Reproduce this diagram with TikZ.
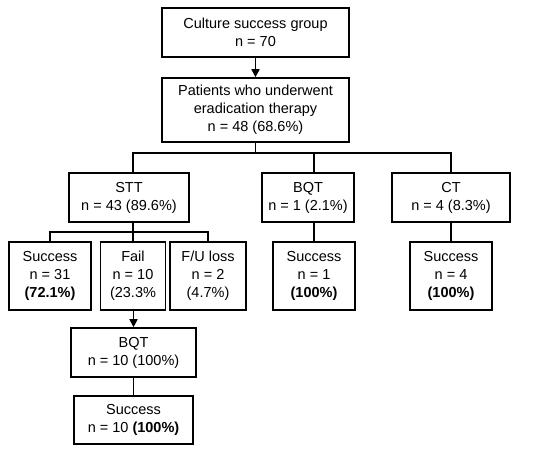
\documentclass[tikz,border=0pt]{standalone}
\usepackage{fontspec}
\setmainfont{Liberation Sans}
\usetikzlibrary{positioning, arrows.meta}

\begin{document}
\begin{tikzpicture}[
    x=1pt, y=-1pt,
    box/.style={draw, line width=1.6pt, inner sep=2pt, align=center, font=\fontsize{14.5}{18}\selectfont},
    conn/.style={line width=1.6pt},
    arr/.style={conn, -{Triangle[length=8pt, width=8pt]}},
]
\useasboundingbox (0,0) rectangle (550,449);

% top of the tree
\node[box, minimum width=187pt, minimum height=49pt] (culture) at (255.5,32.5) {Culture success group\\n = 70};
\node[box, minimum width=187pt, minimum height=64pt] (patients) at (255.5,110) {Patients who underwent\\eradication therapy\\n = 48 (68.6\%)};

% treatment groups
\node[box, minimum width=120pt, minimum height=49pt] (stt) at (129,197.5) {STT\\n = 43 (89.6\%)};
\node[box, minimum width=92pt, minimum height=49pt] (bqt) at (308,197.5) {BQT\\n = 1 (2.1\%)};
\node[box, minimum width=118pt, minimum height=49pt] (ct) at (451,197.5) {CT\\n = 4 (8.3\%)};

% outcomes
\node[box, minimum width=82pt, minimum height=68pt] (succ) at (50,276) {Success\\n = 31\\\textbf{(72.1\%)}};
\node[box, minimum width=65pt, minimum height=68pt] (fail) at (133,276) {Fail\\n = 10\\(23.3\%};
\node[box, minimum width=76pt, minimum height=68pt] (fuloss) at (208,276) {F/U loss\\n = 2\\(4.7\%)};
\node[box, minimum width=82pt, minimum height=68pt] (bqtok) at (314,276) {Success\\n = 1\\\textbf{(100\%)}};
\node[box, minimum width=82pt, minimum height=68pt] (ctok) at (451,276) {Success\\n = 4\\\textbf{(100\%)}};

% rescue therapy
\node[box, minimum width=125pt, minimum height=49pt] (rescue) at (133.5,352.5) {BQT\\n = 10 (100\%)};
\node[box, minimum width=119pt, minimum height=48pt] (rescueok) at (133.5,420) {Success\\n = 10 \textbf{(100\%)}};

\coordinate (split) at (255.5,153);
\coordinate (sttsplit) at (133,232);

\draw[arr] (culture) -- (patients);
\draw[conn] (patients) -- (split);
\draw[conn] (stt.north -| fail) |- (split) -| (ct.north -| ctok);
\draw[conn] (bqtok |- split) -- (bqt.north -| bqtok);
\draw[conn] (bqt.south -| bqtok) -- (bqtok);
\draw[conn] (ct.south -| ctok) -- (ctok);
\draw[conn] (stt.south -| sttsplit) -- (sttsplit);
\draw[conn] (succ.north) |- (sttsplit) -| (fuloss.north);
\draw[conn] (sttsplit) -- (fail.north -| sttsplit);
\draw[arr] (fail.south -| rescue) -- (rescue);
\draw[conn] (rescue) -- (rescueok);
\end{tikzpicture}
\end{document}
